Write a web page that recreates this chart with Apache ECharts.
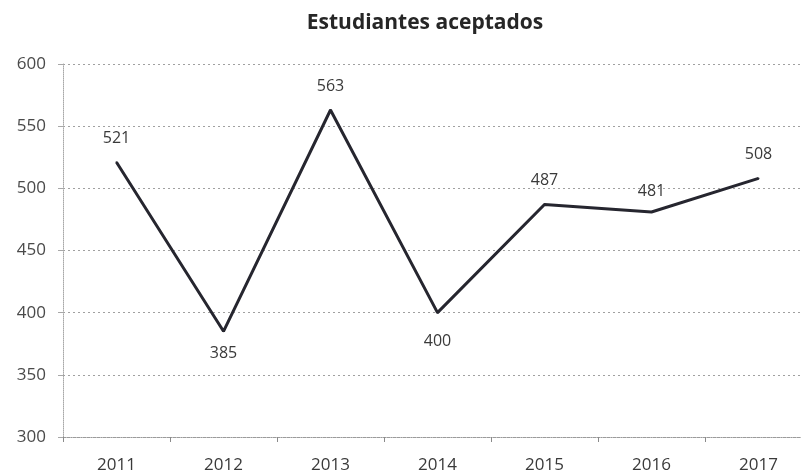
<!DOCTYPE html>
<html>
<head>
<meta charset="utf-8">
<script src="https://cdn.jsdelivr.net/npm/echarts@6/dist/echarts.min.js"></script>
<style>
  html, body { margin: 0; padding: 0; background: #fff; overflow: hidden; }
  /* the plot area runs past the right edge of the picture, as in the scan */
  #chart { width: 812px; height: 476px; }
</style>
</head>
<body>
<div id="chart"></div>
<script>
// datos
const years = ["2011", "2012", "2013", "2014", "2015", "2016", "2017"];
const accepted = [521, 385, 563, 400, 487, 481, 508];
// posicion de cada etiqueta (arriba / abajo del punto) y su separacion
const labelPos = ["top", "bottom", "top", "bottom", "top", "top", "top"];
const labelDist = [15, 13, 15, 20, 15, 12, 15];

const chart = echarts.init(document.getElementById("chart"));
const font = "'Open Sans', 'Noto Sans', sans-serif";

const option = {
  backgroundColor: "#fff",
  animation: false,
  title: {
    text: "Estudiantes aceptados",
    left: 420,
    textAlign: "center",
    top: 8,
    textStyle: {
      fontFamily: font,
      fontSize: 21,
      fontWeight: "bold",
      color: "#262626"
    }
  },
  grid: {
    left: 63,
    top: 64,
    right: 0,
    bottom: 39
  },
  xAxis: {
    type: "category",
    data: years,
    boundaryGap: true,
    axisLine: {
      lineStyle: { color: "#9a9a9a", type: "dotted", width: 1 }
    },
    axisTick: {
      show: true,
      length: 5,
      lineStyle: { color: "#8a8a8a" }
    },
    axisLabel: {
      fontFamily: font,
      fontSize: 17,
      color: "#3a3a3a",
      margin: 20
    },
    splitLine: { show: false }
  },
  yAxis: {
    type: "value",
    min: 300,
    max: 600,
    interval: 50,
    axisLine: {
      show: true,
      lineStyle: { color: "#a8a8a8", type: "dotted", width: 1 }
    },
    axisTick: {
      show: true,
      length: 5,
      lineStyle: { color: "#a8a8a8" }
    },
    axisLabel: {
      fontFamily: font,
      fontSize: 17,
      color: "#4a4a4a",
      margin: 17
    },
    splitLine: {
      lineStyle: { color: "#a0a0a0", type: [2, 3], width: 1 }
    }
  },
  series: [
    {
      type: "line",
      data: accepted.map((v, i) => ({
        value: v,
        label: { show: true, position: labelPos[i], distance: labelDist[i] }
      })),
      symbol: "circle",
      symbolSize: 2,
      showSymbol: true,
      itemStyle: { color: "#26262f" },
      lineStyle: { color: "#26262f", width: 3 },
      label: {
        show: true,
        fontFamily: font,
        fontSize: 16,
        color: "#3a3a3a"
      }
    }
  ]
};

chart.setOption(option);
</script>
</body>
</html>
